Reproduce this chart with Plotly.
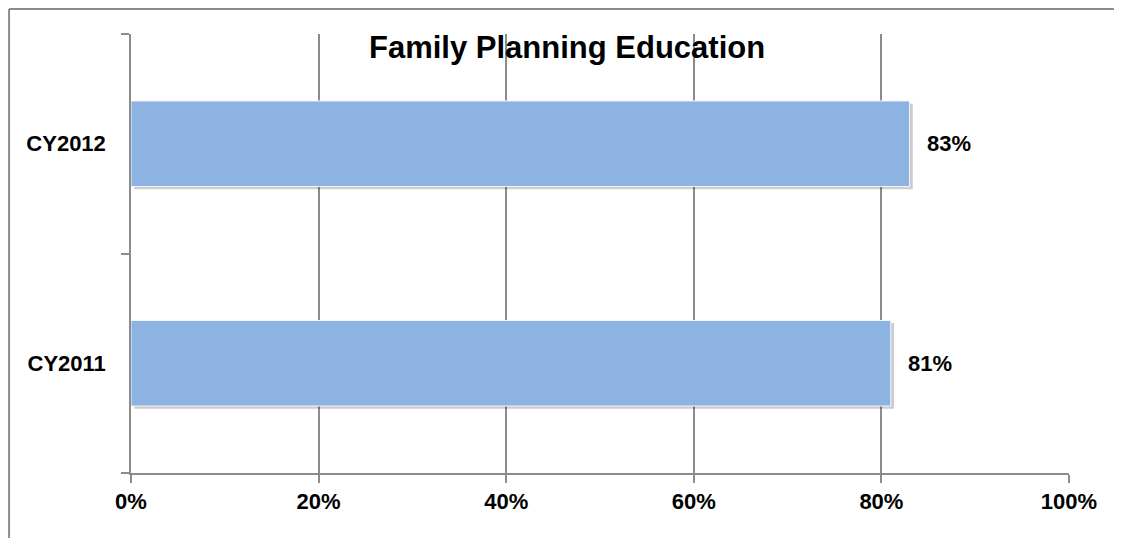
import plotly.graph_objects as go

# data
years = ["CY2011", "CY2012"]
values = [81, 83]
x_ticks = [0, 20, 40, 60, 80, 100]
x_tick_labels = ["0%", "20%", "40%", "60%", "80%", "100%"]
chart_title = "Family Planning Education"

FONT = "Liberation Sans"
GRID = "#8c8c8c"
BAR_W = 0.39

fig = go.Figure()
# soft drop shadow: same bars nudged right/down a few pixels
fig.add_trace(go.Bar(
    y=years, x=values, orientation="h", base=0.35,
    width=BAR_W, offset=-BAR_W / 2 - 0.012,
    marker=dict(color="rgba(0,0,0,0.2)", line=dict(width=0)),
    hoverinfo="skip", showlegend=False,
))
fig.add_trace(go.Bar(
    y=years, x=values, orientation="h",
    width=BAR_W, offset=-BAR_W / 2,
    marker=dict(color="#8db3e2", line=dict(color="#f4f8fc", width=1)),
    hoverinfo="skip", showlegend=False,
))

# value labels to the right of each bar
for yr, v in zip(years, values):
    fig.add_annotation(x=v, y=yr, xref="x", yref="y", text=f"{v}%",
                       showarrow=False, xanchor="left", xshift=15,
                       font=dict(family=FONT, size=22, color="black", weight="bold"))

# title sits inside the plot area
fig.add_annotation(x=0.4648, y=0.97, xref="paper", yref="paper", text=chart_title,
                   showarrow=False, xanchor="center", yanchor="middle",
                   font=dict(family=FONT, size=31, color="black", weight="bold"))

# outer frame (only left and top edges are visible in the crop)
fig.add_shape(type="line", xref="paper", yref="paper", x0=-0.1300, x1=-0.1300, y0=-0.2, y1=1.057,
              line=dict(color=GRID, width=2))
fig.add_shape(type="line", xref="paper", yref="paper", x0=-0.1300, x1=1.2, y0=1.057, y1=1.057,
              line=dict(color=GRID, width=2))

# the page body adds an 8px offset, so the figure is 8px smaller each way
fig.update_layout(
    width=1114, height=530,
    margin=dict(l=123, r=53, t=26, b=65),
    plot_bgcolor="white", paper_bgcolor="white",
    barmode="overlay",
    xaxis=dict(range=[0, 100], tickvals=x_ticks, ticktext=x_tick_labels,
               showgrid=True, gridcolor=GRID, gridwidth=1.5, zeroline=False,
               showline=True, linecolor=GRID, linewidth=1.5,
               ticks="outside", ticklen=8, tickcolor=GRID, tickwidth=1.5,
               ticklabelstandoff=0,
               tickfont=dict(family=FONT, size=22, color="black", weight="bold")),
    yaxis=dict(categoryorder="array", categoryarray=years, range=[-0.5, 1.5],
               showgrid=False, zeroline=False, showline=True, linecolor=GRID, linewidth=1.5,
               ticks="outside", tickson="boundaries", ticklen=8, tickcolor=GRID, tickwidth=1.5,
               ticklabelstandoff=19,
               tickfont=dict(family=FONT, size=22, color="black", weight="bold")),
)

fig.write_html("out.html")
